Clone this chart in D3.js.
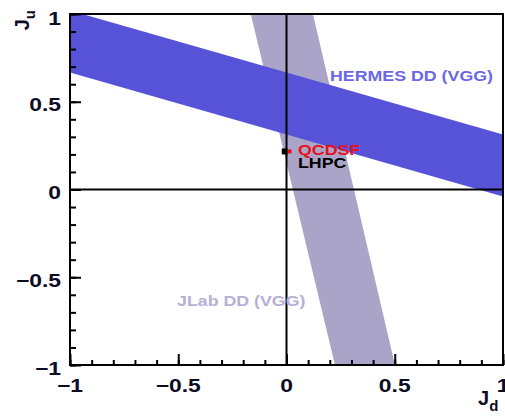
<!DOCTYPE html>
<html lang="en">
<head>
<meta charset="UTF-8">
<title>Ju vs Jd</title>
<script src="https://d3js.org/d3.v7.min.js"></script>
<style>
  body { margin:0; background:#fff; }
  svg { display:block; }
  .lbl { font-family:"Liberation Sans", Arial, sans-serif; font-weight:bold; }
</style>
</head>
<body>
<script>
// tick values and labels
var xTicks = [-1, -0.5, 0, 0.5, 1];
var xTickLabels = ["\u22121", "\u22120.5", "0", "0.5", "1"];
var yTicks = [-1, -0.5, 0, 0.5, 1];
var yTickLabels = ["\u22121", "\u22120.5", "0", "0.5", "1"];
var minorTicks = d3.range(-10, 11).map(function(i){ return i / 10; });

// HERMES DD (VGG) band edges (Jd, Ju)
var hermesUpper = [{jd:-1, ju:1.02}, {jd:1, ju:0.313}];
var hermesLower = [{jd:-1, ju:0.667}, {jd:1, ju:-0.04}];
// JLab DD (VGG) band edges
var jlabLeft = [{jd:-0.165, ju:1}, {jd:0.224, ju:-1}];
var jlabRight = [{jd:0.122, ju:1}, {jd:0.501, ju:-1}];
// lattice points
var points = [
  {name:"LHPC", jd:-0.008, ju:0.217, size:6, color:"#000"},
  {name:"QCDSF", jd:0.014, ju:0.217, size:4, color:"#e8101a"}
];

var width = 505, height = 416;
var padL = 70, padR = 503, padT = 14, padB = 365;
var stretch = 1.27;

var x = d3.scaleLinear().domain([-1, 1]).range([padL, padR]);
var y = d3.scaleLinear().domain([-1, 1]).range([padB, padT]);

var svg = d3.select("body").append("svg")
  .attr("width", width).attr("height", height);

svg.append("clipPath").attr("id", "clip")
  .append("rect").attr("x", padL).attr("y", padT)
  .attr("width", padR - padL).attr("height", padB - padT);

var plot = svg.append("g").attr("clip-path", "url(#clip)");

var line = d3.line()
  .x(function(d){ return x(d.jd); })
  .y(function(d){ return y(d.ju); });

// JLab band first, HERMES on top
plot.append("path")
  .attr("d", line(jlabLeft.concat(jlabRight.slice().reverse())) + "Z")
  .attr("fill", "#a9a4c8");
plot.append("path")
  .attr("d", line(hermesUpper.concat(hermesLower.slice().reverse())) + "Z")
  .attr("fill", "#5753d9");

// zero lines
plot.append("line").attr("x1", x(-1)).attr("x2", x(1))
  .attr("y1", y(0)).attr("y2", y(0)).attr("stroke", "#000").attr("stroke-width", 2);
plot.append("line").attr("x1", x(0)).attr("x2", x(0))
  .attr("y1", y(-1)).attr("y2", y(1)).attr("stroke", "#000").attr("stroke-width", 2);

// points
plot.selectAll("rect.pt").data(points).enter().append("rect")
  .attr("class", "pt")
  .attr("x", function(d){ return x(d.jd) - d.size / 2; })
  .attr("y", function(d){ return y(d.ju) - d.size / 2; })
  .attr("width", function(d){ return d.size; })
  .attr("height", function(d){ return d.size; })
  .attr("fill", function(d){ return d.color; });

// ticks (pointing inward)
function tickAxis(axis, values, size) {
  return axis.tickValues(values).tickSize(-size).tickSizeOuter(0).tickFormat("");
}
var gx = svg.append("g").attr("transform", "translate(0," + padB + ")");
gx.call(tickAxis(d3.axisBottom(x), minorTicks, 5));
gx.append("g").call(tickAxis(d3.axisBottom(x), xTicks, 11));
var gy = svg.append("g").attr("transform", "translate(" + padL + ",0)");
gy.call(tickAxis(d3.axisLeft(y), minorTicks, 6));
gy.append("g").call(tickAxis(d3.axisLeft(y), yTicks, 11));
svg.selectAll(".domain").remove();
svg.selectAll(".tick line").attr("stroke", "#000").attr("stroke-width", 2);

// frame
svg.append("rect").attr("x", padL).attr("y", padT)
  .attr("width", padR - padL).attr("height", padB - padT)
  .attr("fill", "none").attr("stroke", "#000").attr("stroke-width", 2);

function label(tx, ty, txt, size, color, anchor) {
  return svg.append("text").attr("class", "lbl")
    .attr("transform", "translate(" + tx + "," + ty + ") scale(" + stretch + ",1)")
    .attr("text-anchor", anchor || "start")
    .attr("font-size", size).attr("fill", color).text(txt);
}

// tick labels
xTicks.forEach(function(v, i){
  label(x(v), 392, xTickLabels[i], 18, "#0c0c24", "middle");
});
yTicks.forEach(function(v, i){
  var cy = Math.max(y(v) + 3, 18);
  label(61, cy + 6.5, yTickLabels[i], 18, "#0c0c24", "end");
});

// band and point labels
label(330, 81, "HERMES DD (VGG)", 14, "#6a68e4");
label(177, 306, "JLab DD (VGG)", 14, "#b6b0d6");
label(298, 155, "QCDSF", 14, "#e8101a");
label(298, 168, "LHPC", 14, "#000");

// axis titles
var xt = svg.append("text").attr("class", "lbl").attr("x", 478).attr("y", 405)
  .attr("font-size", 20).attr("fill", "#0c0c24");
xt.append("tspan").text("J");
xt.append("tspan").attr("dy", 6).attr("font-size", 15).text("d");

var yt = svg.append("text").attr("class", "lbl")
  .attr("transform", "translate(29,10) rotate(-90)")
  .attr("text-anchor", "end").attr("font-size", 20).attr("fill", "#0c0c24");
yt.append("tspan").text("J");
yt.append("tspan").attr("dy", 6).attr("font-size", 15).text("u");
</script>
</body>
</html>
